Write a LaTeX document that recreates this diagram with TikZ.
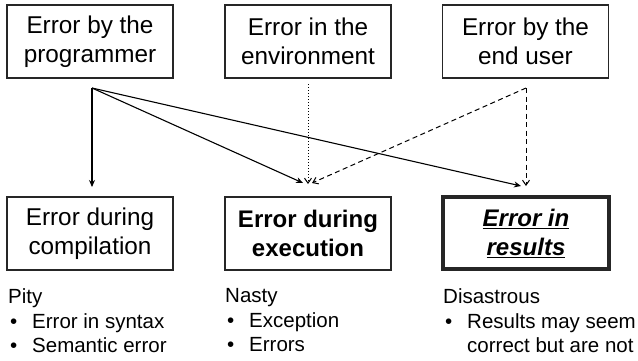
\documentclass[tikz,border=0pt]{standalone}
\usepackage{fontspec}
\setmainfont{Liberation Sans}
\usetikzlibrary{arrows.meta}
\begin{document}
\begin{tikzpicture}[x=1pt,y=-1pt,
  box/.style={draw=black!85,rectangle,minimum width=166pt,minimum height=73pt,inner sep=0pt,align=center,font=\fontsize{24.3}{28.5}\selectfont,line width=1.6pt},
  note/.style={anchor=north west,align=left,inner sep=0pt,font=\fontsize{20.5}{24}\selectfont},
  sarrow/.style={line width=1.1pt,-{Stealth[length=7pt,width=6pt]}},
  darrow/.style={line width=1pt,dashed,dash pattern=on 5pt off 3.5pt,-{Straight Barb[length=5pt,width=7pt]}},
  oarrow/.style={line width=1pt,dotted,-{Straight Barb[length=5pt,width=7pt]}}]
\useasboundingbox (0,0) rectangle (638,360);
\node[box] (prog) at (90,41.5) {Error by the\\programmer};
\node[box] (env) at (308,41.5) {Error in the\\environment};
\node[box] (user) at (525.5,41.5) {Error by the\\end user};
\node[box,line width=1.2pt] (comp) at (90,233.5) {Error during\\compilation};
\node[box,line width=2.2pt,font=\fontsize{24}{28.5}\selectfont\bfseries] (exec) at (308,233.5) {Error during\\execution};
\node[box,line width=4.5pt,minimum width=166pt,minimum height=72pt,font=\fontsize{24}{29}\selectfont\bfseries\itshape] (res) at (526,233) {\underline{Error in}\\\underline{results}};
\coordinate (ps) at (92,88);
\coordinate (es) at (308,84);
\coordinate (us) at (526,88);
\coordinate (ce) at (92,187);
\coordinate (xe1) at (303,183);
\coordinate (xe2) at (308,184);
\coordinate (xe3) at (312,183);
\coordinate (re1) at (521,186);
\coordinate (re2) at (526,186);
\draw[sarrow] (ps) -- (ce);
\draw[sarrow] (ps) -- (xe1);
\draw[sarrow] (ps) -- (re1);
\draw[oarrow] (es) -- (xe2);
\draw[darrow] (us) -- (xe3);
\draw[darrow] (us) -- (re2);
\node[note] (n1) at (8,288) {Pity\\[1pt]
  \makebox[24pt][l]{\hspace{2pt}•}Error in syntax\\
  \makebox[24pt][l]{\hspace{2pt}•}Semantic error};
\node[note] (n2) at (225,288) {Nasty\\[1pt]
  \makebox[24pt][l]{\hspace{2pt}•}Exception\\
  \makebox[24pt][l]{\hspace{2pt}•}Errors};
\node[note] (n3) at (443,288) {Disastrous\\[1pt]
  \makebox[24pt][l]{\hspace{2pt}•}Results may seem\\
  \makebox[24pt][l]{}correct but are not};
\end{tikzpicture}
\end{document}
